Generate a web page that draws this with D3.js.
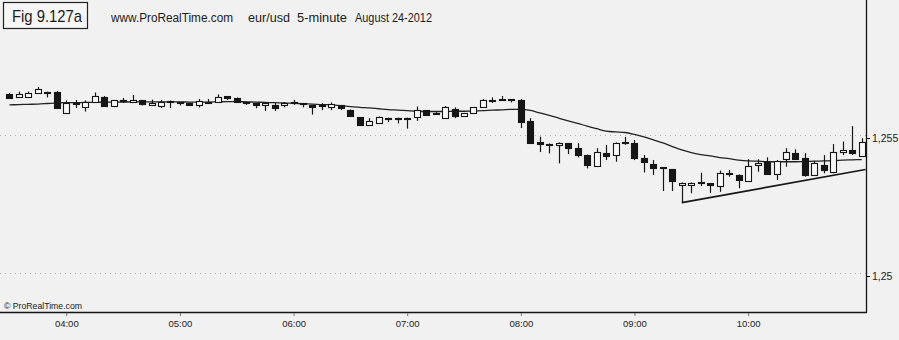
<!DOCTYPE html>
<html><head><meta charset="utf-8">
<script src="https://cdn.jsdelivr.net/npm/d3@7"></script>
<style>html,body{margin:0;padding:0;background:#f1f1f1;} svg{display:block;font-family:"Liberation Sans",Arial,sans-serif;}</style>
</head><body><svg id="c" width="899" height="340"></svg>
<script>
// ---- data: eur/usd 5-minute bars, 24 Aug 2012, 03:30 .. 11:00 ----
const firstBar = "03:30";
const barMinutes = 5;
const opens = [1.25661,1.25647,1.25647,1.25661,1.25668,1.25668,1.25591,1.25627,1.25612,1.25632,
1.25650,1.25614,1.25636,1.25629,1.25636,1.25618,1.25618,1.25634,1.25630,1.25626,
1.25620,1.25632,1.25632,1.25652,1.25646,1.25632,1.25626,1.25617,1.25620,1.25617,
1.25629,1.25627,1.25620,1.25618,1.25611,1.25618,1.25601,1.25575,1.25547,1.25554,
1.25574,1.25574,1.25574,1.25576,1.25600,1.25592,1.25574,1.25605,1.25579,1.25590,
1.25612,1.25639,1.25643,1.25640,1.25639,1.25560,1.25484,1.25480,1.25475,1.25481,
1.25463,1.25438,1.25399,1.25447,1.25437,1.25487,1.25482,1.25426,1.25406,1.25395,
1.25387,1.25330,1.25330,1.25342,1.25337,1.25324,1.25373,1.25366,1.25345,1.25402,
1.25414,1.25372,1.25423,1.25447,1.25426,1.25366,1.25402,1.25378,1.25450,1.25457,
1.25438];
const highs = [1.25663,1.25668,1.25668,1.25685,1.25668,1.25670,1.25636,1.25638,1.25636,1.25665,
1.25652,1.25638,1.25645,1.25656,1.25638,1.25639,1.25638,1.25636,1.25630,1.25627,
1.25641,1.25641,1.25658,1.25652,1.25647,1.25632,1.25627,1.25627,1.25627,1.25630,
1.25638,1.25627,1.25620,1.25626,1.25629,1.25620,1.25603,1.25576,1.25572,1.25578,
1.25574,1.25574,1.25574,1.25614,1.25601,1.25594,1.25616,1.25611,1.25591,1.25612,
1.25641,1.25647,1.25652,1.25641,1.25641,1.25572,1.25505,1.25480,1.25484,1.25482,
1.25481,1.25440,1.25463,1.25475,1.25484,1.25504,1.25493,1.25438,1.25420,1.25395,
1.25388,1.25339,1.25339,1.25374,1.25337,1.25382,1.25384,1.25368,1.25423,1.25423,
1.25430,1.25420,1.25463,1.25459,1.25445,1.25417,1.25438,1.25478,1.25487,1.25543,
1.25499];
const lows = [1.25645,1.25647,1.25646,1.25661,1.25647,1.25605,1.25589,1.25609,1.25596,1.25630,
1.25614,1.25612,1.25627,1.25629,1.25618,1.25616,1.25609,1.25609,1.25618,1.25618,
1.25611,1.25623,1.25630,1.25638,1.25630,1.25620,1.25608,1.25598,1.25598,1.25611,
1.25620,1.25611,1.25585,1.25601,1.25601,1.25601,1.25576,1.25545,1.25545,1.25553,
1.25558,1.25553,1.25534,1.25562,1.25580,1.25587,1.25572,1.25572,1.25578,1.25589,
1.25611,1.25627,1.25634,1.25629,1.25536,1.25480,1.25449,1.25444,1.25408,1.25442,
1.25430,1.25390,1.25397,1.25420,1.25414,1.25475,1.25420,1.25375,1.25366,1.25308,
1.25308,1.25266,1.25300,1.25326,1.25301,1.25305,1.25360,1.25318,1.25344,1.25378,
1.25370,1.25348,1.25396,1.25425,1.25360,1.25364,1.25372,1.25372,1.25438,1.25438,
1.25437];
const closes = [1.25647,1.25659,1.25663,1.25676,1.25663,1.25611,1.25627,1.25625,1.25629,1.25652,
1.25616,1.25636,1.25634,1.25636,1.25620,1.25627,1.25632,1.25630,1.25627,1.25620,
1.25634,1.25630,1.25650,1.25644,1.25632,1.25629,1.25617,1.25626,1.25608,1.25626,
1.25627,1.25623,1.25612,1.25620,1.25623,1.25607,1.25578,1.25547,1.25562,1.25575,
1.25571,1.25571,1.25571,1.25601,1.25582,1.25589,1.25614,1.25580,1.25589,1.25611,
1.25639,1.25636,1.25641,1.25638,1.25560,1.25481,1.25478,1.25475,1.25483,1.25462,
1.25438,1.25402,1.25450,1.25435,1.25482,1.25486,1.25426,1.25411,1.25391,1.25390,
1.25342,1.25337,1.25337,1.25341,1.25330,1.25372,1.25371,1.25348,1.25399,1.25411,
1.25372,1.25418,1.25450,1.25426,1.25366,1.25408,1.25384,1.25450,1.25457,1.25445,
1.25487];
const movingAverage = [1.25620,1.25621,1.25622,1.25623,1.25625,1.25627,1.25628,1.25628,1.25629,1.25629,
1.25630,1.25630,1.25630,1.25631,1.25631,1.25631,1.25631,1.25631,1.25631,1.25630,
1.25630,1.25630,1.25631,1.25632,1.25632,1.25631,1.25630,1.25629,1.25628,1.25627,
1.25626,1.25624,1.25623,1.25621,1.25620,1.25617,1.25614,1.25611,1.25609,1.25606,
1.25603,1.25601,1.25599,1.25597,1.25596,1.25596,1.25596,1.25597,1.25597,1.25598,
1.25599,1.25601,1.25602,1.25604,1.25604,1.25600,1.25591,1.25582,1.25572,1.25562,
1.25553,1.25543,1.25534,1.25525,1.25522,1.25520,1.25513,1.25504,1.25493,1.25482,
1.25469,1.25457,1.25447,1.25440,1.25435,1.25429,1.25425,1.25420,1.25417,1.25416,
1.25414,1.25414,1.25414,1.25414,1.25415,1.25416,1.25417,1.25418,1.25420,1.25421,
1.25422];
const trendTimes = ["09:25","11:02"];
const trendPrices = [1.25266,1.25386];
const hourTicks = ["04:00","05:00","06:00","07:00","08:00","09:00","10:00"];
const priceTicks = [1.25,1.255];
const priceTickLabels = ["1,25","1,255"];

// ---- helpers ----
const parseT = s => { const [h,m] = s.split(":").map(Number); return new Date(2012,7,24,h,m); };
const t0 = parseT(firstBar);
const times = opens.map((_,i) => d3.timeMinute.offset(t0, i*barMinutes));

const svg = d3.select("#c");
svg.append("rect").attr("width",899).attr("height",340).attr("fill","#f1f1f1");

const x = d3.scaleTime().domain([parseT("03:25"), new Date(2012,7,24,11,2,15)]).range([0,866]);
const y = d3.scaleLinear().domain([1.25,1.255]).range([276,138]);
const ink = "#161616";

// dotted grid
svg.append("g").selectAll("line").data(priceTicks).join("line")
  .attr("x1",0).attr("x2",866).attr("y1",d=>Math.round(y(d))-2.5).attr("y2",d=>Math.round(y(d))-2.5)
  .attr("stroke","#8a8a8a").attr("stroke-dasharray","1,4").attr("opacity",0.6);

// frame
svg.append("line").attr("x1",866.5).attr("x2",866.5).attr("y1",0).attr("y2",313).attr("stroke",ink).attr("stroke-width",1.3);
svg.append("line").attr("x1",0).attr("x2",866.5).attr("y1",312.5).attr("y2",312.5).attr("stroke",ink).attr("stroke-width",1.4);

// bottom axis
const xAxis = d3.axisBottom(x).tickValues(hourTicks.map(parseT)).tickFormat(d3.timeFormat("%H:%M")).tickSize(3).tickPadding(4);
const gx = svg.append("g").attr("transform","translate(0,313)").call(xAxis);
gx.select(".domain").remove();
gx.selectAll("line").attr("stroke","#777");
gx.selectAll("text").attr("font-size",9.5).attr("fill","#222").attr("font-family","Liberation Sans, Arial, sans-serif");

// right axis
const yAxis = d3.axisRight(y).tickValues(priceTicks).tickFormat((d,i)=>priceTickLabels[i]).tickSize(4).tickPadding(2);
const gy = svg.append("g").attr("transform","translate(866,0)").call(yAxis);
gy.select(".domain").remove();
gy.selectAll("line").attr("stroke",ink);
gy.selectAll("text").attr("font-size",10.5).attr("fill","#222").attr("font-family","Liberation Sans, Arial, sans-serif");

// moving average
svg.append("path").datum(movingAverage)
  .attr("d", d3.line().x((d,i)=>x(times[i])).y(d=>y(d)).curve(d3.curveMonotoneX))
  .attr("fill","none").attr("stroke","#222").attr("stroke-width",1.3);

// trend line
svg.append("path").datum(trendTimes.map((s,i)=>[parseT(s),trendPrices[i]]))
  .attr("d", d3.line().x(d=>x(d[0])).y(d=>y(d[1])))
  .attr("fill","none").attr("stroke",ink).attr("stroke-width",1.7);

// candles
const bars = opens.map((o,i)=>({t:times[i],o,h:highs[i],l:lows[i],c:closes[i]}));
const g = svg.append("g");
const cg = g.selectAll("g").data(bars).join("g");
cg.append("line")
  .attr("x1",d=>Math.round(x(d.t))+0.5).attr("x2",d=>Math.round(x(d.t))+0.5)
  .attr("y1",d=>y(d.h)).attr("y2",d=>y(d.l)).attr("stroke",ink).attr("stroke-width",1.2);
cg.append("rect")
  .attr("x",d=>Math.round(x(d.t))-2.5).attr("width",6)
  .attr("y",d=>Math.round(y(Math.max(d.o,d.c)))+0.5)
  .attr("height",d=>Math.max(1,Math.round(Math.abs(y(d.o)-y(d.c)))))
  .attr("fill",d=>d.c>=d.o?"#f8f8f8":ink).attr("stroke",ink).attr("stroke-width",1.1);

// titles
svg.append("rect").attr("x",3.5).attr("y",2.5).attr("width",84).attr("height",26).attr("fill","#f6f6f6").attr("stroke","#222").attr("stroke-width",1.2);
svg.append("text").attr("x",12).attr("y",22).attr("font-size",17).attr("fill","#1a1a1a")
  .attr("textLength",70).attr("lengthAdjust","spacingAndGlyphs").text("Fig 9.127a");
svg.append("text").attr("x",111).attr("y",21.5).attr("font-size",12).attr("fill","#1a1a1a")
  .attr("textLength",122).attr("lengthAdjust","spacingAndGlyphs").text("www.ProRealTime.com");
svg.append("text").attr("x",248).attr("y",21.5).attr("font-size",12).attr("fill","#1a1a1a")
  .attr("textLength",42).attr("lengthAdjust","spacingAndGlyphs").text("eur/usd");
svg.append("text").attr("x",297).attr("y",21.5).attr("font-size",12).attr("fill","#1a1a1a")
  .attr("textLength",50).attr("lengthAdjust","spacingAndGlyphs").text("5-minute");
svg.append("text").attr("x",355).attr("y",21.5).attr("font-size",12).attr("fill","#1a1a1a")
  .attr("textLength",77).attr("lengthAdjust","spacingAndGlyphs").text("August 24-2012");
svg.append("text").attr("x",4).attr("y",308.5).attr("font-size",9).attr("fill","#1a1a1a")
  .attr("textLength",78).attr("lengthAdjust","spacingAndGlyphs").text("© ProRealTime.com");
</script></body></html>
